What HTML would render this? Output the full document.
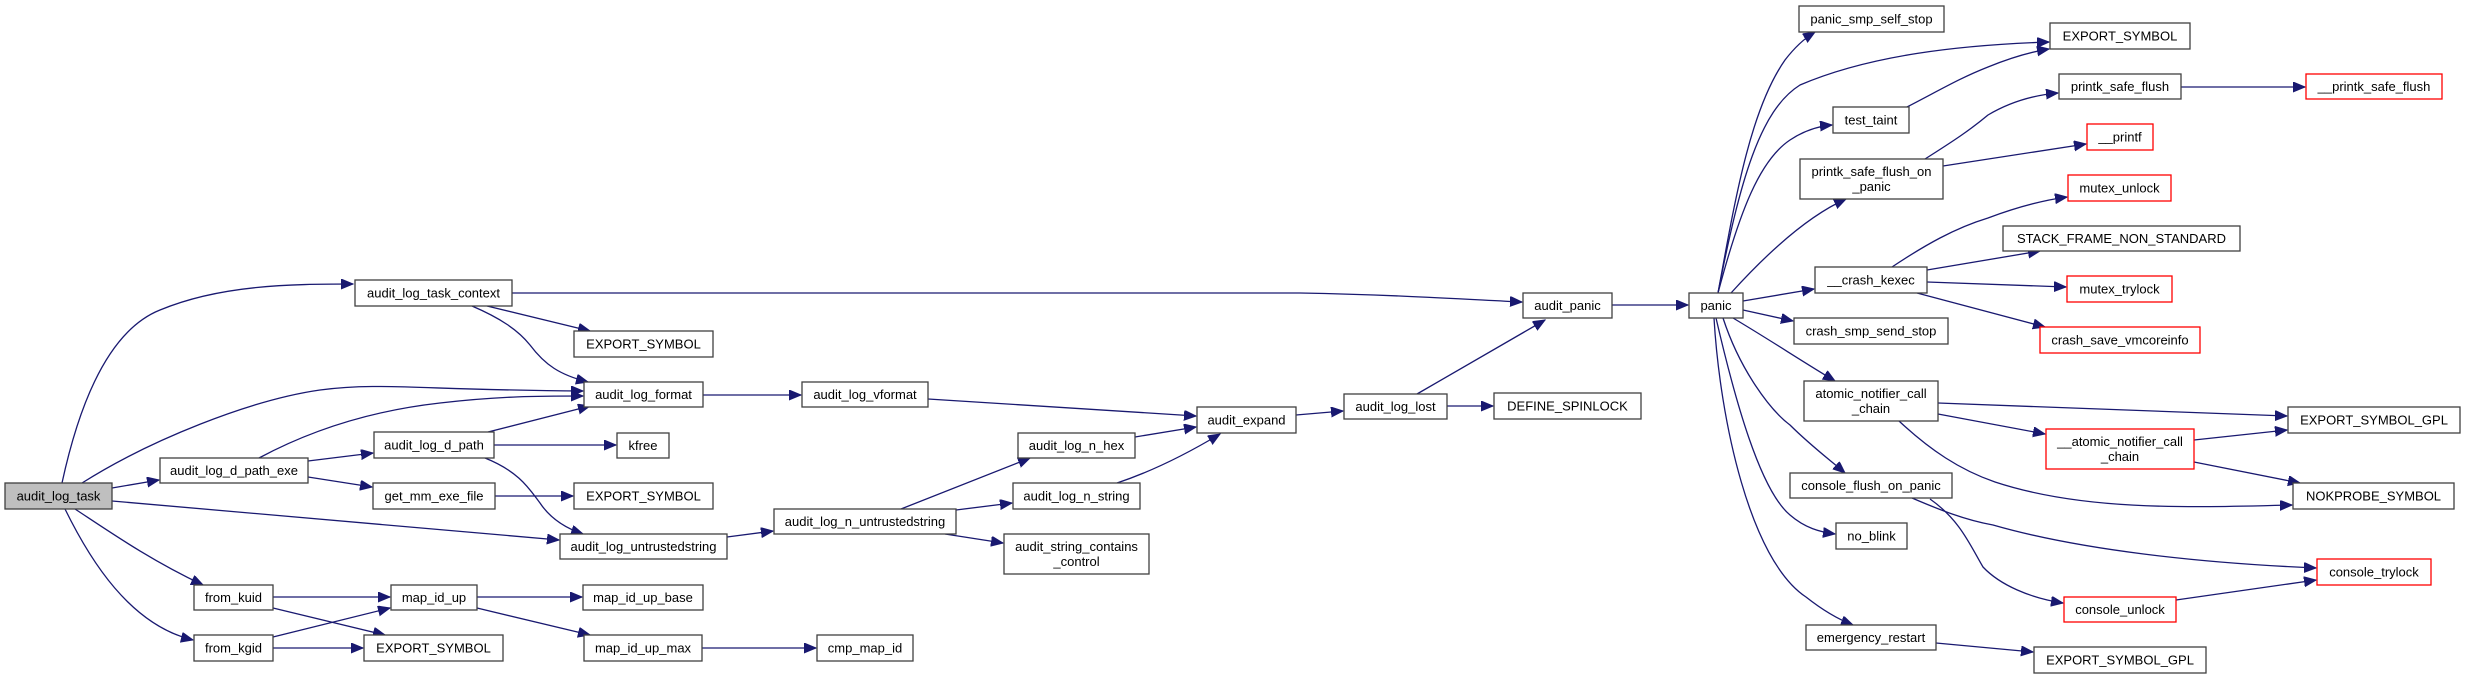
<!DOCTYPE html>
<html><head><meta charset="utf-8"><style>
html,body{margin:0;padding:0;background:#fff;}
svg{display:block;}
text{font-family:"Liberation Sans",Arial,sans-serif;font-size:13px;fill:#000;text-anchor:middle;}
.n{fill:#fff;stroke:#404040;stroke-width:1.3;}
.r{fill:#fff;stroke:#ff0000;stroke-width:1.3;}
.g{fill:#bfbfbf;stroke:#404040;stroke-width:1.3;}
path.e{fill:none;stroke:#191970;stroke-width:1.3;marker-end:url(#a);}
</style></head><body>
<svg width="2465" height="679" viewBox="0 0 2465 679" xmlns="http://www.w3.org/2000/svg">
<defs><marker id="a" markerUnits="userSpaceOnUse" markerWidth="14" markerHeight="12" refX="12" refY="5" orient="auto"><path d="M0,0 L12,5 L0,10 z" fill="#191970" stroke="#191970"/></marker></defs>

<!-- edges -->
<path class="e" d="M62,483 C80,400 110,330 160,310 C220,285 290,284 353,284"/>
<path class="e" d="M82,483 C150,440 250,400 320,390 C380,382 420,390 583,391"/>
<path class="e" d="M112,488 L159,480"/>
<path class="e" d="M112,501 L559,540"/>
<path class="e" d="M75,509 C110,532 150,560 203,585"/>
<path class="e" d="M65,509 C90,560 130,625 193,640"/>
<path class="e" d="M259,458 C300,436 360,412 440,403 C500,396 540,396 583,396"/>
<path class="e" d="M308,461 L373,453"/>
<path class="e" d="M308,477 L372,487"/>
<path class="e" d="M488,432 L590,406"/>
<path class="e" d="M494,445 L616,445"/>
<path class="e" d="M485,458 C520,472 530,490 540,503 C550,518 565,528 583,534"/>
<path class="e" d="M495,496 L573,496"/>
<path class="e" d="M512,293 L1300,293 C1400,295 1460,299 1522,302"/>
<path class="e" d="M487,306 L590,331"/>
<path class="e" d="M472,306 C500,318 518,330 530,345 C545,365 560,375 588,382"/>
<path class="e" d="M703,395 L801,395"/>
<path class="e" d="M928,399 L1196,416"/>
<path class="e" d="M1135,437 L1196,427"/>
<path class="e" d="M1117,483 C1150,472 1185,455 1220,434"/>
<path class="e" d="M1296,415 L1343,411"/>
<path class="e" d="M1447,406 L1493,406"/>
<path class="e" d="M1417,394 L1545,320"/>
<path class="e" d="M1612,305 L1688,305"/>
<path class="e" d="M727,537 L773,531"/>
<path class="e" d="M901,509 L1030,458"/>
<path class="e" d="M956,510 L1012,503"/>
<path class="e" d="M945,534 L1003,543"/>
<path class="e" d="M273,597 L390,597"/>
<path class="e" d="M273,608 L385,635"/>
<path class="e" d="M273,637 L390,608"/>
<path class="e" d="M273,648 L363,648"/>
<path class="e" d="M477,597 L582,597"/>
<path class="e" d="M477,608 L590,635"/>
<path class="e" d="M702,648 L816,648"/>

<path class="e" d="M1718,293 C1735,200 1750,110 1785,60 C1795,47 1805,38 1815,32"/>
<path class="e" d="M1718,293 C1740,180 1760,110 1800,85 C1870,55 1960,45 2049,42"/>
<path class="e" d="M1907,107 C1940,90 1960,78 1988,67 C2010,58 2030,52 2049,49"/>
<path class="e" d="M1718,293 C1740,210 1760,160 1790,140 C1805,130 1820,126 1832,125"/>
<path class="e" d="M1731,293 C1770,250 1810,215 1846,199"/>
<path class="e" d="M1925,159 C1955,140 1970,130 1988,115 C2010,102 2035,95 2058,93"/>
<path class="e" d="M1943,166 L2086,144"/>
<path class="e" d="M2181,87 L2305,87"/>
<path class="e" d="M1743,301 L1814,289"/>
<path class="e" d="M1743,310 L1793,321"/>
<path class="e" d="M1892,267 C1925,245 1955,228 1988,218 C2020,206 2045,200 2067,197"/>
<path class="e" d="M1927,270 L2040,251"/>
<path class="e" d="M1927,282 L2066,287"/>
<path class="e" d="M1917,293 L2045,327"/>
<path class="e" d="M1733,318 C1770,340 1800,360 1835,381"/>
<path class="e" d="M1723,318 C1740,370 1770,410 1790,425 C1810,445 1830,460 1845,473"/>
<path class="e" d="M1716,318 C1735,400 1760,490 1790,515 C1805,528 1820,532 1835,534"/>
<path class="e" d="M1714,318 C1720,420 1750,560 1806,597 C1825,612 1840,620 1853,625"/>
<path class="e" d="M1938,403 L2287,416"/>
<path class="e" d="M1938,414 L2045,434"/>
<path class="e" d="M1899,421 C1930,450 1960,470 1995,482 C2080,510 2180,508 2292,505"/>
<path class="e" d="M2194,440 L2287,430"/>
<path class="e" d="M2194,462 L2300,483"/>
<path class="e" d="M1912,498 C1940,510 1965,520 1993,525 C2080,550 2200,563 2316,568"/>
<path class="e" d="M1930,499 C1960,520 1970,545 1983,567 C2000,585 2030,598 2063,603"/>
<path class="e" d="M2176,600 L2316,580"/>
<path class="e" d="M1936,643 L2033,652"/>

<!-- nodes -->
<rect class="g" x="5" y="483" width="107" height="26"/><text x="58.5" y="500.5">audit_log_task</text>
<rect class="n" x="355" y="280" width="157" height="26"/><text x="433.5" y="297.5">audit_log_task_context</text>
<rect class="n" x="160" y="458" width="148" height="25"/><text x="234" y="475">audit_log_d_path_exe</text>
<rect class="n" x="374" y="432" width="120" height="26"/><text x="434" y="449.5">audit_log_d_path</text>
<rect class="n" x="373" y="483" width="122" height="26"/><text x="434" y="500.5">get_mm_exe_file</text>
<rect class="n" x="194" y="585" width="79" height="25"/><text x="233.5" y="602">from_kuid</text>
<rect class="n" x="194" y="635" width="79" height="26"/><text x="233.5" y="652.5">from_kgid</text>
<rect class="n" x="391" y="585" width="86" height="25"/><text x="434" y="602">map_id_up</text>
<rect class="n" x="364" y="635" width="139" height="26"/><text x="433.5" y="652.5">EXPORT_SYMBOL</text>
<rect class="n" x="574" y="331" width="139" height="26"/><text x="643.5" y="348.5">EXPORT_SYMBOL</text>
<rect class="n" x="584" y="382" width="119" height="25"/><text x="643.5" y="399">audit_log_format</text>
<rect class="n" x="617" y="433" width="52" height="25"/><text x="643" y="450">kfree</text>
<rect class="n" x="574" y="483" width="139" height="26"/><text x="643.5" y="500.5">EXPORT_SYMBOL</text>
<rect class="n" x="560" y="534" width="167" height="25"/><text x="643.5" y="551">audit_log_untrustedstring</text>
<rect class="n" x="583" y="585" width="120" height="25"/><text x="643" y="602">map_id_up_base</text>
<rect class="n" x="584" y="635" width="118" height="26"/><text x="643" y="652.5">map_id_up_max</text>
<rect class="n" x="802" y="382" width="126" height="25"/><text x="865" y="399">audit_log_vformat</text>
<rect class="n" x="774" y="509" width="182" height="25"/><text x="865" y="526">audit_log_n_untrustedstring</text>
<rect class="n" x="817" y="635" width="96" height="26"/><text x="865" y="652.5">cmp_map_id</text>
<rect class="n" x="1018" y="433" width="117" height="25"/><text x="1076.5" y="450">audit_log_n_hex</text>
<rect class="n" x="1013" y="483" width="127" height="26"/><text x="1076.5" y="500.5">audit_log_n_string</text>
<rect class="n" x="1004" y="534" width="145" height="40"/><text x="1076.5" y="551">audit_string_contains</text><text x="1076.5" y="566">_control</text>
<rect class="n" x="1197" y="407" width="99" height="26"/><text x="1246.5" y="424.5">audit_expand</text>
<rect class="n" x="1344" y="394" width="103" height="25"/><text x="1395.5" y="411">audit_log_lost</text>
<rect class="n" x="1494" y="393" width="147" height="26"/><text x="1567.5" y="410.5">DEFINE_SPINLOCK</text>
<rect class="n" x="1523" y="293" width="89" height="25"/><text x="1567.5" y="310">audit_panic</text>
<rect class="n" x="1689" y="293" width="54" height="25"/><text x="1716" y="310">panic</text>

<rect class="n" x="1799" y="6" width="145" height="26"/><text x="1871.5" y="23.5">panic_smp_self_stop</text>
<rect class="n" x="2050" y="23" width="140" height="26"/><text x="2120" y="40.5">EXPORT_SYMBOL</text>
<rect class="n" x="2059" y="74" width="122" height="25"/><text x="2120" y="91">printk_safe_flush</text>
<rect class="r" x="2306" y="74" width="136" height="25"/><text x="2374" y="91">__printk_safe_flush</text>
<rect class="n" x="1833" y="107" width="76" height="26"/><text x="1871" y="124.5">test_taint</text>
<rect class="r" x="2087" y="124" width="66" height="26"/><text x="2120" y="141.5">__printf</text>
<rect class="n" x="1800" y="159" width="143" height="40"/><text x="1871.5" y="176">printk_safe_flush_on</text><text x="1871.5" y="191">_panic</text>
<rect class="r" x="2068" y="175" width="103" height="26"/><text x="2119.5" y="192.5">mutex_unlock</text>
<rect class="n" x="2003" y="226" width="237" height="25"/><text x="2121.5" y="243">STACK_FRAME_NON_STANDARD</text>
<rect class="n" x="1815" y="267" width="112" height="26"/><text x="1871" y="284.5">__crash_kexec</text>
<rect class="r" x="2067" y="276" width="105" height="26"/><text x="2119.5" y="293.5">mutex_trylock</text>
<rect class="n" x="1794" y="318" width="154" height="26"/><text x="1871" y="335.5">crash_smp_send_stop</text>
<rect class="r" x="2040" y="327" width="160" height="26"/><text x="2120" y="344.5">crash_save_vmcoreinfo</text>
<rect class="n" x="1804" y="381" width="134" height="40"/><text x="1871" y="398">atomic_notifier_call</text><text x="1871" y="413">_chain</text>
<rect class="n" x="2288" y="407" width="172" height="26"/><text x="2374" y="424.5">EXPORT_SYMBOL_GPL</text>
<rect class="r" x="2046" y="429" width="148" height="40"/><text x="2120" y="446">__atomic_notifier_call</text><text x="2120" y="461">_chain</text>
<rect class="n" x="2293" y="483" width="161" height="26"/><text x="2373.5" y="500.5">NOKPROBE_SYMBOL</text>
<rect class="n" x="1790" y="473" width="162" height="25"/><text x="1871" y="490">console_flush_on_panic</text>
<rect class="n" x="1836" y="523" width="71" height="26"/><text x="1871.5" y="540.5">no_blink</text>
<rect class="r" x="2317" y="559" width="114" height="26"/><text x="2374" y="576.5">console_trylock</text>
<rect class="r" x="2064" y="597" width="112" height="25"/><text x="2120" y="614">console_unlock</text>
<rect class="n" x="1806" y="625" width="130" height="25"/><text x="1871" y="642">emergency_restart</text>
<rect class="n" x="2034" y="647" width="172" height="26"/><text x="2120" y="664.5">EXPORT_SYMBOL_GPL</text>
</svg>
</body></html>
